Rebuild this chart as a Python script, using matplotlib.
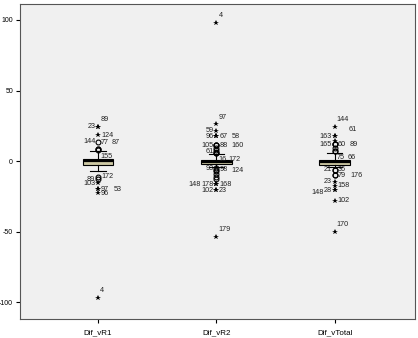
import matplotlib
matplotlib.use("Agg")
import matplotlib.pyplot as plt

# variables on the x axis
names = ["Dif_vR1", "Dif_vR2", "Dif_vTotal"]

# box statistics
q1 = [-2.8, -2.3, -2.8]
med = [-0.3, -0.6, -0.8]
q3 = [1.4, 0.7, 0.7]
whislo = [-7.0, -4.5, -4.0]
whishi = [7.3, 4.7, 5.4]

# outliers: value, case number, kind ('o' = outlier, '*' = extreme)
r1_vals = [24.3, 24.3, 18.4, 13.7, 8.5, 8.5, 8.0, -11.0, -12.8, -15.6, -19.9, -19.9, -22.7, -97.0]
r1_case = ["23", "89", "124", "144", "77", "87", "155", "172", "89", "103", "97", "53", "96", "4"]
r1_kind = ["*", "*", "*", "o", "o", "o", "o", "o", "o", "*", "*", "*", "*", "*"]

r2_vals = [98.0, 26.0, 21.5, 17.7, 17.7, 17.7, 11.3, 11.3, 11.3, 9.5, 8.0, 6.5, 5.5, 5.5,
           -5.0, -6.0, -7.0, -9.0, -11.0, -13.0, -16.3, -16.3, -16.3, -20.6, -20.6, -53.7]
r2_case = ["4", "97", "59", "96", "67", "58", "105", "88", "160", "", "", "61", "16", "172",
           "93", "98", "124", "", "", "", "148", "178", "168", "102", "23", "179"]
r2_kind = ["*", "*", "*", "*", "*", "*", "o", "o", "o", "o", "o", "o", "o", "o",
           "o", "o", "o", "o", "o", "o", "*", "*", "*", "*", "*", "*"]

tot_vals = [24.3, 17.7, 17.7, 14.5, 11.8, 11.8, 11.8, 9.0, 7.0, 7.0,
            -6.0, -6.0, -9.9, -9.9, -14.7, -17.5, -20.6, -20.6, -28.0, -50.0]
tot_case = ["144", "163", "61", "", "165", "60", "89", "", "75", "66",
            "21", "36", "79", "176", "23", "158", "28", "148", "102", "170"]
tot_kind = ["*", "*", "*", "*", "o", "o", "o", "o", "o", "o",
            "o", "o", "o", "o", "*", "*", "*", "*", "*", "*"]

# where each case label sits relative to its marker
r1_side = ["l", "u", "r", "l", "u", "u2", "d", "r", "l", "l", "r", "r2", "r", "u"]
r2_side = ["u", "u", "l", "l", "r", "r2", "l", "r", "r2", "r", "r", "l", "d", "d2",
           "l", "r", "r2", "r", "r", "r", "l2", "l", "r", "l", "r", "u"]
tot_side = ["u", "l", "u2", "r", "l", "r", "r2", "r", "d", "d2",
            "l", "r", "r", "r2", "l", "r", "l", "l3", "r", "u"]

outliers = [(r1_vals, r1_case, r1_kind, r1_side),
            (r2_vals, r2_case, r2_kind, r2_side),
            (tot_vals, tot_case, tot_kind, tot_side)]

offsets = {"r": (2, 0, "left", "center"), "r2": (11, 0, "left", "center"),
           "l": (-2, 0, "right", "center"), "l2": (-11, 0, "right", "center"),
           "l3": (-8, -2, "right", "center"),
           "u": (1.5, 2.5, "left", "bottom"), "u2": (10, 2, "left", "bottom"),
           "d": (1.5, -2, "left", "top"), "d2": (9, -2, "left", "top")}

fig = plt.figure(figsize=(4.18, 3.38), dpi=100)
ax = fig.add_axes([0.048, 0.056, 0.945, 0.932])
ax.set_facecolor("#f0f0f0")

stats = []
for i in range(3):
    stats.append(dict(med=med[i], q1=q1[i], q3=q3[i], whislo=whislo[i],
                      whishi=whishi[i], fliers=[], label=names[i]))

pos = [1, 2, 3]
ax.bxp(stats, positions=pos, widths=0.26, patch_artist=True, showfliers=False,
       boxprops=dict(facecolor="#cdc8a4", edgecolor="black", linewidth=0.8),
       medianprops=dict(color="black", linewidth=1.6),
       whiskerprops=dict(color="black", linewidth=0.8),
       capprops=dict(color="black", linewidth=0.8), capwidths=0.13)

for p, (vals, cases, kinds, sides) in zip(pos, outliers):
    for v, c, k, s in zip(vals, cases, kinds, sides):
        if k == "o":
            ax.plot(p, v, "o", ms=3.5, mfc="none", mec="black", mew=0.8, zorder=4)
        else:
            ax.plot(p, v, "*", ms=4, color="black", mew=0, zorder=4)
        if c:
            dx, dy, ha, va = offsets[s]
            ax.annotate(c, (p, v), xytext=(dx, dy), textcoords="offset points",
                        ha=ha, va=va, fontsize=5.2, family="Liberation Sans",
                        color="#222222", zorder=5)

ax.set_xlim(0.34, 3.68)
ax.set_ylim(-112, 111.3)
ax.set_yticks([-100, -50, 0, 50, 100])
ax.set_yticklabels(["-100", "-50", "0", "50", "100"])
ax.set_xticks(pos)
ax.set_xticklabels(names)
ax.tick_params(labelsize=5, length=3, width=0.8, pad=2)
ax.tick_params(axis="x", labelsize=5.8, pad=4)
for lab in ax.get_xticklabels() + ax.get_yticklabels():
    lab.set_family("Liberation Sans")
for sp in ax.spines.values():
    sp.set_color("#555555")
    sp.set_linewidth(0.8)

fig.savefig("out.png", dpi=100, facecolor="white")
